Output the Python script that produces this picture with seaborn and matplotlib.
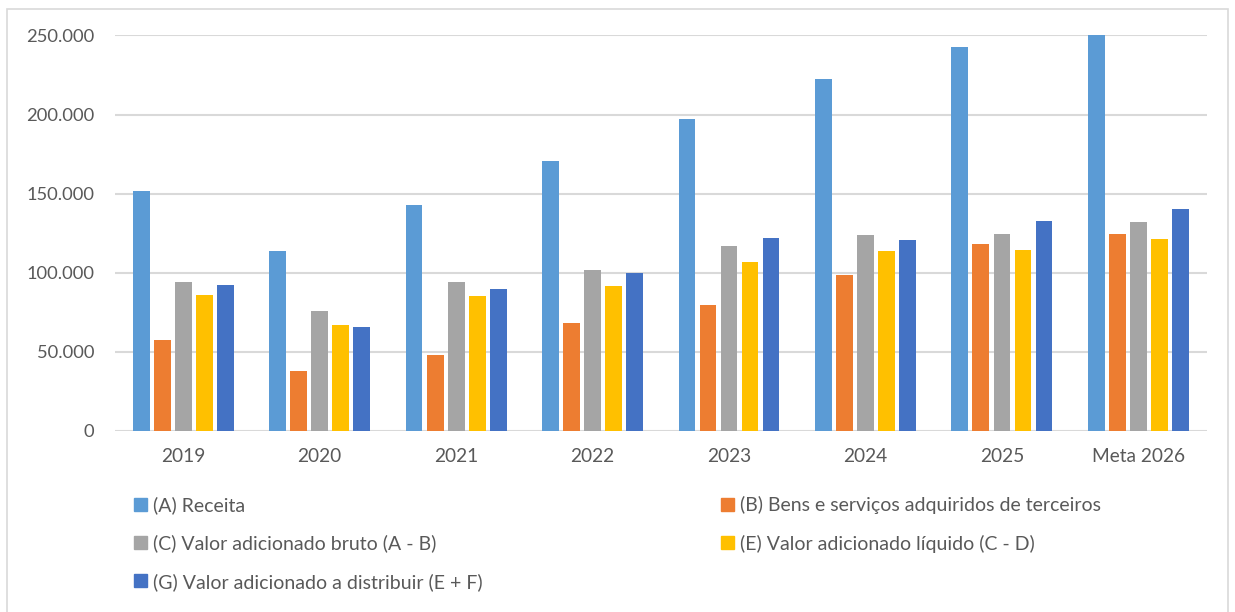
import pandas as pd
import matplotlib.pyplot as plt
import matplotlib.patches as mpatches
import matplotlib.ticker as mticker
import seaborn as sns

# Data
anos = ['2019', '2020', '2021', '2022', '2023', '2024', '2025', 'Meta 2026']
series = [
    '(A) Receita',
    '(B) Bens e serviços adquiridos de terceiros',
    '(C) Valor adicionado bruto (A - B)',
    '(E) Valor adicionado líquido (C - D)',
    '(G) Valor adicionado a distribuir (E + F)',
]
receita = [152000, 114000, 143000, 170500, 197000, 222600, 243000, 250500]
bens_servicos = [57500, 37800, 48000, 68000, 79500, 98300, 118000, 124500]
va_bruto = [94000, 75800, 94300, 101800, 117000, 124000, 124600, 132100]
va_liquido = [86000, 67300, 85300, 91900, 106900, 113800, 114500, 121400]
va_distribuir = [92500, 65900, 89800, 99700, 121800, 121000, 133000, 140600]
cores = ['#5B9BD5', '#ED7D31', '#A5A5A5', '#FFC000', '#4472C4']

valores = [receita, bens_servicos, va_bruto, va_liquido, va_distribuir]
linhas = []
for nome, vals in zip(series, valores):
    for ano, v in zip(anos, vals):
        linhas.append({'Ano': ano, 'Serie': nome, 'Valor': v})
df = pd.DataFrame(linhas)

sns.set_style('white')
plt.rcParams['font.family'] = ['Lato', 'DejaVu Sans']

fig = plt.figure(figsize=(12.35, 6.12), dpi=100)
ax = fig.add_axes([0.0931, 0.2958, 0.8839, 0.6462])

sns.barplot(data=df, x='Ano', y='Valor', hue='Serie', order=anos, hue_order=series,
            palette=cores, width=0.77, gap=0.2, linewidth=0, saturation=1, ax=ax)

ax.set_ylim(0, 250000)
ax.set_xlim(-0.5, len(anos) - 0.5)
ax.yaxis.set_major_locator(mticker.MultipleLocator(50000))
ax.yaxis.set_major_formatter(mticker.FuncFormatter(
    lambda v, p: '0' if v == 0 else f'{int(v):,}'.replace(',', '.')))
ax.grid(axis='y', color='#D9D9D9', linewidth=1.5)
ax.set_axisbelow(True)
for s in ['top', 'right', 'left', 'bottom']:
    ax.spines[s].set_visible(False)
ax.set_xlabel('')
ax.set_ylabel('')
ax.tick_params(axis='x', length=0, labelsize=13.8, colors='#595959', pad=12)
ax.tick_params(axis='y', length=0, labelsize=13.2, colors='#595959', pad=15)

# legend in row order: A B / C E / G
ax.get_legend().remove()
ordem = [0, 2, 4, 1, 3]
handles = [mpatches.Patch(color=cores[i], label=series[i]) for i in ordem]
fig.legend(handles=handles, ncol=2, loc='upper left', bbox_to_anchor=(0.0945, 0.218),
           frameon=False, fontsize=14, labelcolor='#595959',
           handlelength=0.65, handleheight=0.65, handletextpad=0.3,
           columnspacing=12.3, labelspacing=1.05)

# light border around the chart area
fig.patches.append(mpatches.Rectangle((0.006, -0.01), 0.988, 0.996, transform=fig.transFigure,
                                      fill=False, edgecolor='#D9D9D9', linewidth=1.2))

fig.savefig('out.png', dpi=100)
plt.close()
